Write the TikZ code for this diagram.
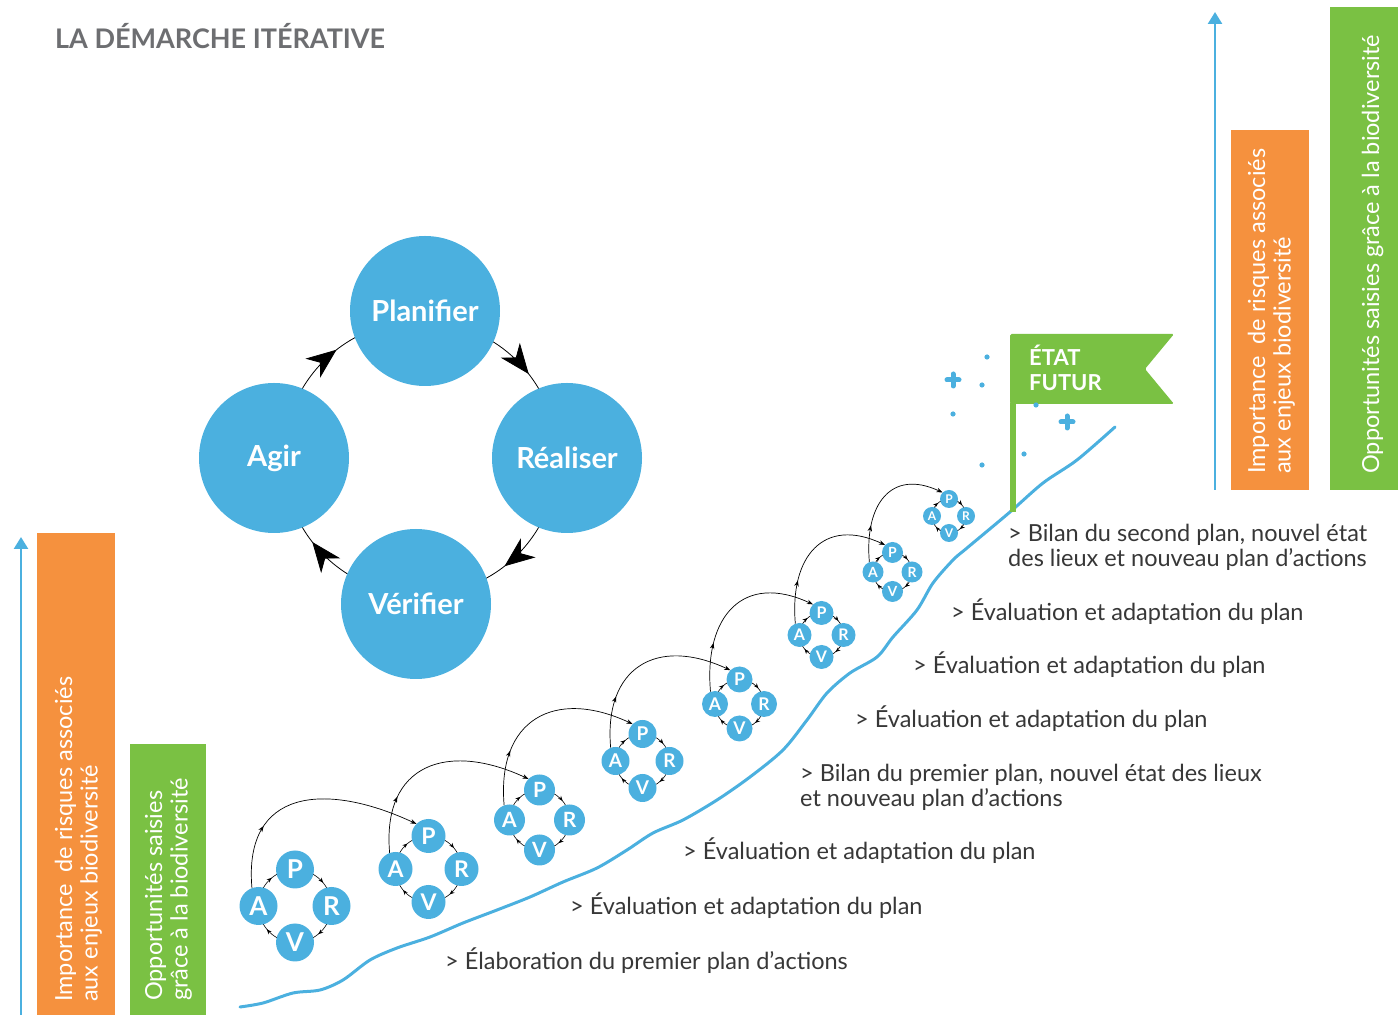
\documentclass[tikz,border=0pt]{standalone}
\usepackage{fontspec}
\setmainfont{Lato}
\usetikzlibrary{arrows.meta,decorations.markings}
\definecolor{dblue}{RGB}{75,176,223}
\definecolor{dorange}{RGB}{245,145,62}
\definecolor{dgreen}{RGB}{122,193,67}
\definecolor{dtext}{RGB}{55,55,55}
\definecolor{dtitle}{RGB}{109,110,113}
\newcommand\fs[1]{\fontsize{#1}{#1}\selectfont}
\newcommand\twolines[2]{\vtop{\hbox{#1}\hbox{#2}}}
\tikzset{
  bigc/.style={circle, fill=dblue, inner sep=0pt, minimum size=150pt, text=white, font=\fs{29}\bfseries},
  smallc/.style={circle, fill=dblue, inner sep=0pt, text=white},
  bigring/.style={draw=black, line width=0.8pt, postaction={decorate},
    decoration={markings, mark=at position 0.58 with {\arrow{Stealth[length=30pt,width=24pt,inset=9pt]}}}},
  smallring/.style={draw=black, line width=0.6pt, postaction={decorate},
    decoration={markings, mark=at position 0.56 with {\arrow{Stealth[length=5pt,width=4pt]}}}},
  jump/.style={draw=black, line width=0.7pt, -{Stealth[length=6pt,width=4.5pt]}, postaction={decorate},
    decoration={markings, mark=at position 0.28 with {\arrow{Stealth[length=6pt,width=4.5pt]}}}},
  desc/.style={anchor=base west, inner sep=0pt, text=dtext, font=\fontsize{23.5}{25}\selectfont},
  bartext/.style={anchor=base west, inner sep=0pt, rotate=90, text=white, font=\fontsize{23.5}{25.5}\selectfont},
}
\newcommand\pdca[6]{%
  \foreach \s/\e in {180/90,90/0,0/-90,-90/-180}{
    \draw[smallring] (#2,#3) ++(\s:#4) arc[start angle=\s, end angle=\e, radius=#4];
  }
  \node[smallc, minimum size=#5*2pt, font=\fs{#6}\bfseries] (p#1) at (#2,#3+#4) {P};
  \node[smallc, minimum size=#5*2pt, font=\fs{#6}\bfseries] (a#1) at (#2-#4,#3) {A};
  \node[smallc, minimum size=#5*2pt, font=\fs{#6}\bfseries] (r#1) at (#2+#4,#3) {R};
  \node[smallc, minimum size=#5*2pt, font=\fs{#6}\bfseries] (v#1) at (#2,#3-#4) {V};
}
\begin{document}
\begin{tikzpicture}[x=1pt,y=1pt]
\useasboundingbox (0,0) rectangle (1398,1015);

% title
\node[anchor=base west, inner sep=0pt, text=dtitle, font=\fs{27}\bfseries] (title) at (55,966) {LA DÉMARCHE ITÉRATIVE};

% left bars
\draw[dblue, line width=2.5pt, -{Triangle[length=12pt,width=14pt]}] (21,0) -- (21,478);
\fill[dorange] (37,0) rectangle (115,482);
\fill[dgreen] (130,0) rectangle (206,271);
\node[bartext] (lo) at (72,13) {\twolines{Importance\ \ de risques associés}{aux enjeux biodiversité}};
\node[bartext] (lg) at (162,14) {\twolines{Opportunités saisies}{grâce à la biodiversité}};

% right bars
\draw[dblue, line width=2.5pt, -{Triangle[length=12pt,width=14pt]}] (1215,525) -- (1215,1003);
\fill[dorange] (1231,525) rectangle (1309,885);
\fill[dgreen] (1330,525) rectangle (1398,1008);
\node[bartext] (ro) at (1265,541) {\twolines{Importance\ \ de risques associés}{aux enjeux biodiversité}};
\node[bartext] (rg) at (1379,541) {Opportunités saisies grâce à la biodiversité};

% big cycle
\foreach \s/\e in {180/90,90/0,0/-90,-90/-180}{
  \draw[bigring] (420.5,557) ++(\s:137) arc[start angle=\s, end angle=\e, radius=137];
}
\node[bigc] (plan) at (425,704) {Planifier};
\node[bigc] (real) at (567,557) {Réaliser};
\node[bigc] (veri) at (416,411) {Vérifier};
\node[bigc] (agir) at (274,557) {Agir};

% wavy line
\draw[dblue, line width=3pt, line cap=round] plot[smooth, tension=0.5] coordinates {
 (240,8) (263,12) (293,22) (320,25) (343,35) (370,55) (397,67) (430,78) (463,92)
 (497,105) (530,118) (563,133) (597,147) (627,165) (653,182) (683,195) (717,215)
 (750,238) (783,265) (807,295) (827,322) (850,342) (877,358) (893,378) (917,405)
 (933,432) (953,455) (967,467) (1010,503) (1043,532) (1077,555) (1115,588)};

% flag
\fill[dgreen] (1010,503) rectangle (1016,612);
\fill[dgreen, rounded corners=1.5pt] (1010,681) -- (1174,681) -- (1145,646) -- (1174,611) -- (1010,611) -- cycle;
\node[anchor=base west, inner sep=0pt, text=white, font=\fontsize{22}{24.5}\selectfont\bfseries] (flagt) at (1029,649) {\twolines{ÉTAT}{FUTUR}};

% sparkles
\draw[dblue, line width=5pt, line cap=round] (947,635) -- (959,635) (953,629) -- (953,641);
\draw[dblue, line width=5pt, line cap=round] (1061,593) -- (1073,593) (1067,587) -- (1067,599);
\foreach \p in {(987,658),(982,630),(953,601),(1036,610),(1024,561),(982,550)}{
  \fill[dblue] \p circle (2.6);
}

% clusters
\pdca{1}{295}{109}{36.5}{19}{26}
\pdca{2}{428.5}{146}{33}{17}{23}
\pdca{3}{539.5}{195}{30}{15.5}{21}
\pdca{4}{642.5}{254}{27}{14}{19}
\pdca{5}{739.5}{311}{24.5}{13}{17.5}
\pdca{6}{821.5}{380}{22}{12}{16}
\pdca{7}{892.5}{443}{19.5}{10.5}{14}
\pdca{8}{949}{499}{17}{9}{12}

\foreach \i/\j in {1/2,2/3,3/4,4/5,5/6,6/7,7/8}{
  \draw[jump] (a\i.110) to[out=95,in=155,looseness=1.45] (p\j.135);
}

% labels
\node[desc] (l1) at (445,45) {> Élaboration du premier plan d’actions};
\node[desc] (l2) at (570,100) {> Évaluation et adaptation du plan};
\node[desc] (l3) at (683,155) {> Évaluation et adaptation du plan};
\node[desc] (l4) at (800,233) {\twolines{> Bilan du premier plan, nouvel état des lieux}{et nouveau plan d’actions}};
\node[desc] (l5) at (855,287) {> Évaluation et adaptation du plan};
\node[desc] (l6) at (913,341) {> Évaluation et adaptation du plan};
\node[desc] (l7) at (951,394) {> Évaluation et adaptation du plan};
\node[desc] (l8) at (1008,473) {\twolines{> Bilan du second plan, nouvel état}{des lieux et nouveau plan d’actions}};
\end{tikzpicture}
\end{document}
